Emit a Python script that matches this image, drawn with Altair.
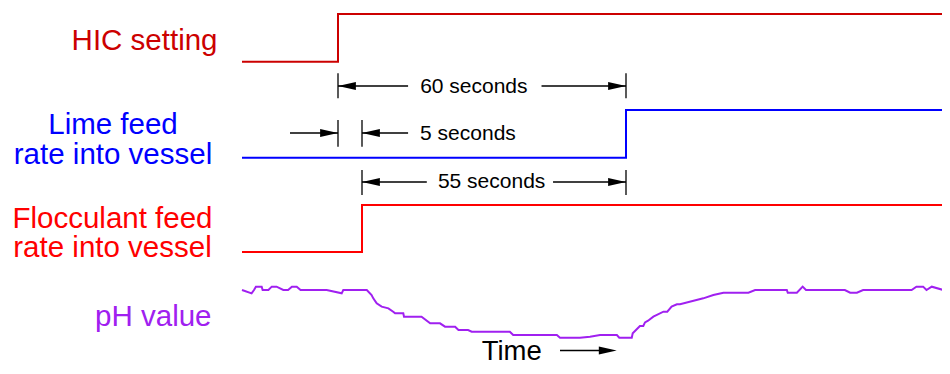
import altair as alt
import pandas as pd

# ---- data (time in seconds, t = 0 when the HIC setting is stepped) ----
hic_t = [-20, 0, 127.5]
hic_v = [0, 1, 1]
lime_t = [-20, 60, 127.5]
lime_v = [0, 1, 1]
floc_t = [-20, 5, 127.5]
floc_v = [0, 1, 1]

ph_t = [-20, -18, -17.5, -17.1, -15.9, -15.7, -14.5, -13.8, -12.8, -11.4, -10.4, -9.6, -8.6,
        -7.8, -2.35, 0.77, 1.1, 6.0, 7.0, 7.35, 8.06, 9.1, 10.5, 11.5, 11.9, 13.6, 13.75,
        17.4, 19.2, 21.25, 22.3, 24.4, 25.1, 27.1, 27.85, 35.8, 36.5, 45.6, 46.25, 50.4,
        52.5, 54.6, 58.1, 58.6, 61.2, 61.4, 62.9, 63.6, 63.96, 64.6, 65.7, 67.8, 68.6, 69.5,
        70.6, 71.25, 76.1, 78.2, 80.3, 85.5, 86.9, 93.5, 93.7, 95.6, 96.8, 97.5, 105.6,
        106.7, 108.1, 109.4, 119.5, 120.5, 121.9, 122.6, 123.7, 126.1, 127.5]
ph_v = [8.0, 7.9, 8.0, 8.1, 8.1, 8.0, 8.0, 8.1, 8.1, 8.0, 8.0, 8.1, 8.1,
        8.0, 8.0, 7.9, 8.0, 8.0, 7.85, 7.75, 7.6, 7.5, 7.45, 7.35, 7.3, 7.3, 7.2,
        7.2, 7.0, 7.0, 6.9, 6.9, 6.8, 6.8, 6.75, 6.75, 6.65, 6.65, 6.57, 6.57,
        6.6, 6.65, 6.65, 6.57, 6.57, 6.7, 6.92, 6.92, 7.03, 7.08, 7.2, 7.35, 7.35, 7.5,
        7.57, 7.57, 7.75, 7.85, 7.92, 7.92, 8.0, 8.0, 7.92, 7.92, 8.1, 8.0, 8.0,
        7.92, 7.92, 8.0, 8.0, 8.1, 8.1, 8.0, 8.1, 8.0, 8.0]

# dimension annotations: (text, start, end)
dim_text = ["60 seconds", "5 seconds", "55 seconds"]
dim_start = [0, 0, 5]
dim_end = [60, 5, 60]

FONT = "Liberation Sans"
W, H = 934, 358
XS = alt.Scale(domain=[-20, 127.5], range=[234, 942], nice=False, zero=False)


def xenc(field="t"):
    return alt.X(f"{field}:Q", scale=XS, axis=None)


def trace(ts, vs, color, yrange, domain=(0, 1), interp="step-after", sw=2):
    df = pd.DataFrame({"t": ts, "v": vs})
    return alt.Chart(df).mark_line(
        color=color, strokeWidth=sw, interpolate=interp, strokeJoin="miter"
    ).encode(
        x=xenc(),
        y=alt.Y("v:Q", scale=alt.Scale(domain=list(domain), range=yrange, nice=False, zero=False), axis=None),
    )


layers = [
    trace(hic_t, hic_v, "#cc0000", [53.7, 6]),
    trace(lime_t, lime_v, "#0000ff", [149.7, 102]),
    trace(floc_t, floc_v, "#ff0000", [244, 197]),
    trace(ph_t, ph_v, "#a020f0", [348.7, 282], domain=(6, 8), interp="linear", sw=2),
]

RIGHT_HEAD = "M0,0L-2,-0.45L-2,0.45Z"
LEFT_HEAD = "M0,0L2,-0.45L2,0.45Z"


def ticks(ts, top, bottom):
    return alt.Chart(pd.DataFrame({"t": ts})).mark_rule(color="black", strokeWidth=1.3).encode(
        x=xenc(), y=alt.value(top), y2=alt.value(bottom))


def shaft(t1, t2, y):
    return alt.Chart(pd.DataFrame({"t": [t1], "t2": [t2]})).mark_rule(color="black", strokeWidth=1.5).encode(
        x=xenc(), x2="t2:Q", y=alt.value(y))


def head(t, y, shape):
    return alt.Chart(pd.DataFrame({"t": [t]})).mark_point(
        shape=shape, filled=True, size=320, color="black", opacity=1, strokeWidth=0
    ).encode(x=xenc(), y=alt.value(y))


def label(text, t, y, align, size=21, color="black"):
    return alt.Chart(pd.DataFrame({"t": [t], "s": [text]})).mark_text(
        font=FONT, fontSize=size, align=align, baseline="alphabetic", color=color
    ).encode(x=xenc(), y=alt.value(y), text="s:N")


# row A: 60 seconds (HIC step -> lime step)
yA = 78
layers += [
    ticks([dim_start[0], dim_end[0]], 65.3, 90.3),
    shaft(dim_start[0], 14.6, yA), shaft(42.4, dim_end[0], yA),
    head(dim_start[0], yA, LEFT_HEAD), head(dim_end[0], yA, RIGHT_HEAD),
    label(dim_text[0], 28.3, 84.5, "center"),
]
# row B: 5 seconds (HIC step -> flocculant step)
yB = 125
layers += [
    ticks([dim_start[1], dim_end[1]], 112, 138.7),
    shaft(-10, dim_start[1], yB), shaft(dim_end[1], 14.6, yB),
    head(dim_start[1], yB, RIGHT_HEAD), head(dim_end[1], yB, LEFT_HEAD),
    label(dim_text[1], 17.1, 132, "left"),
]
# row C: 55 seconds (flocculant step -> lime step)
yC = 174
layers += [
    ticks([dim_start[2], dim_end[2]], 162, 187),
    shaft(dim_start[2], 18.5, yC), shaft(44.8, dim_end[2], yC),
    head(dim_start[2], yC, LEFT_HEAD), head(dim_end[2], yC, RIGHT_HEAD),
    label(dim_text[2], 32, 180.3, "center"),
]

# time arrow
yT = 342.5
layers += [
    label("Time", (473.7 + 8 - 338) / 4.8, 352, "left", size=27.5),
    shaft(46.25, 56, yT),
    head(58.06, yT, RIGHT_HEAD),
]


# row labels (pixel positions)
def row_label(text, x, y, align, color):
    return alt.Chart(pd.DataFrame({"s": [text]})).mark_text(
        font=FONT, fontSize=29.5, align=align, baseline="alphabetic", color=color
    ).encode(x=alt.value(x), y=alt.value(y), text="s:N")


layers += [
    row_label("HIC setting", 209.5, 41.5, "right", "#cc0000"),
    row_label("Lime feed", 105, 126, "center", "#0000ff"),
    row_label("rate into vessel", 105, 156, "center", "#0000ff"),
    row_label("Flocculant feed", 104.5, 220.3, "center", "#ff0000"),
    row_label("rate into vessel", 104.5, 249, "center", "#ff0000"),
    row_label("pH value", 203.5, 318, "right", "#a020f0"),
]

chart = alt.layer(*layers).resolve_scale(y="independent").properties(
    width=W, height=H, autosize=alt.AutoSizeParams(type="none"), padding=0, background="white"
).configure_view(stroke=None)

chart.save("out.html", embed_options={"renderer": "svg", "actions": False})
